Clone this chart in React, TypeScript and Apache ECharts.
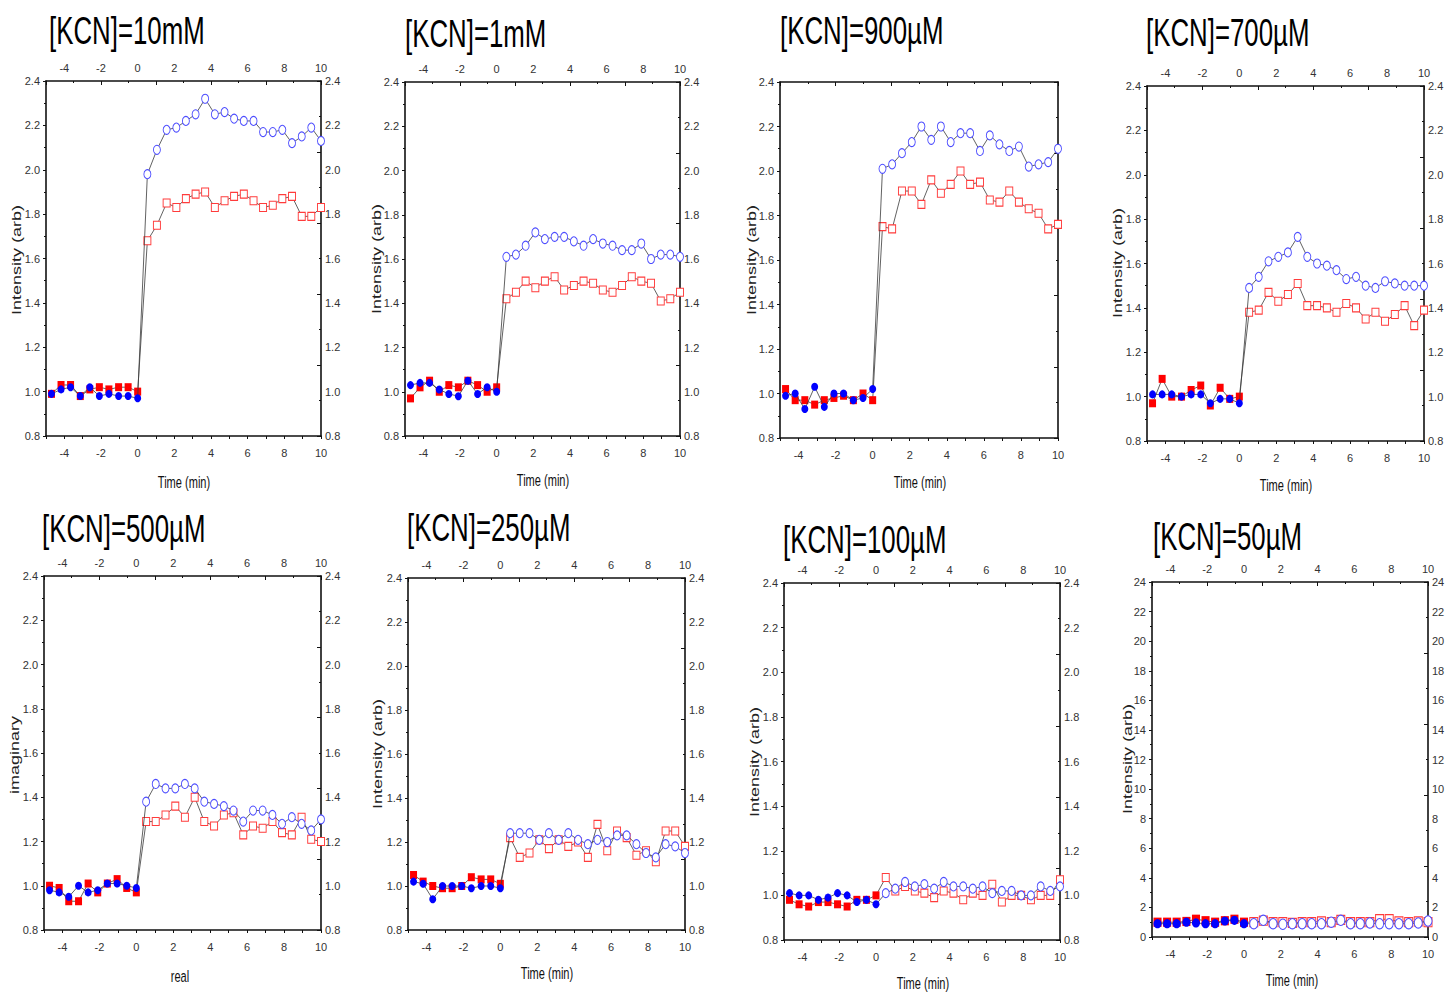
import { useEffect, useRef } from 'react';
import * as echarts from 'echarts';

// Sampling times (min): ten baseline points before KCN addition, nineteen after.
const TIMES = [
  -4.7, -4.18, -3.66, -3.13, -2.61, -2.09, -1.57, -1.04, -0.52, 0.0,
  0.53, 1.05, 1.58, 2.11, 2.63, 3.16, 3.68, 4.21, 4.74, 5.26,
  5.79, 6.32, 6.84, 7.37, 7.89, 8.42, 8.95, 9.47, 10.0,
];
const FIRST_AFTER_ADDITION = 10;

const TITLES = [
  '[KCN]=10mM', '[KCN]=1mM', '[KCN]=900µM', '[KCN]=700µM',
  '[KCN]=500µM', '[KCN]=250µM', '[KCN]=100µM', '[KCN]=50µM',
];
const X_NAMES = ['Time (min)', 'Time (min)', 'Time (min)', 'Time (min)', 'real', 'Time (min)', 'Time (min)', 'Time (min)'];
const Y_NAMES = ['Intensity (arb)', 'Intensity (arb)', 'Intensity (arb)', 'Intensity (arb)', 'imaginary', 'Intensity (arb)', 'Intensity (arb)', 'Intensity (arb)'];
const X_TICKS = [-4, -2, 0, 2, 4, 6, 8, 10];
const Y_MIN = [0.8, 0.8, 0.8, 0.8, 0.8, 0.8, 0.8, 0];
const Y_MAX = [2.4, 2.4, 2.4, 2.4, 2.4, 2.4, 2.4, 24];
const Y_STEP = [0.2, 0.2, 0.2, 0.2, 0.2, 0.2, 0.2, 2];

// Red (square) and blue (circle) intensity traces per KCN concentration.
const RED_10MM = [0.99, 1.03, 1.03, 0.98, 1.01, 1.02, 1.01, 1.02, 1.02, 1.00,
  1.68, 1.75, 1.85, 1.83, 1.87, 1.89, 1.90, 1.83, 1.86, 1.88, 1.89, 1.86, 1.83, 1.84, 1.87, 1.88, 1.79, 1.79, 1.83];
const BLUE_10MM = [0.99, 1.01, 1.02, 0.98, 1.02, 0.98, 0.99, 0.98, 0.98, 0.97,
  1.98, 2.09, 2.18, 2.19, 2.22, 2.25, 2.32, 2.25, 2.26, 2.23, 2.22, 2.22, 2.17, 2.17, 2.18, 2.12, 2.15, 2.19, 2.13];

const RED_1MM = [0.97, 1.02, 1.05, 1.00, 1.03, 1.02, 1.05, 1.03, 1.00, 1.02,
  1.42, 1.45, 1.50, 1.47, 1.50, 1.52, 1.46, 1.48, 1.50, 1.49, 1.46, 1.45, 1.48, 1.52, 1.50, 1.49, 1.41, 1.42, 1.45];
const BLUE_1MM = [1.03, 1.04, 1.04, 1.01, 0.99, 0.98, 1.05, 0.99, 1.02, 1.00,
  1.61, 1.62, 1.66, 1.72, 1.69, 1.70, 1.70, 1.68, 1.66, 1.69, 1.67, 1.66, 1.64, 1.64, 1.67, 1.60, 1.62, 1.62, 1.61];

const RED_900UM = [1.02, 0.97, 0.97, 0.95, 0.97, 0.98, 0.99, 0.97, 1.00, 0.97,
  1.75, 1.74, 1.91, 1.91, 1.85, 1.96, 1.90, 1.94, 2.00, 1.94, 1.95, 1.87, 1.86, 1.91, 1.86, 1.83, 1.81, 1.74, 1.76];
const BLUE_900UM = [0.99, 1.00, 0.93, 1.03, 0.94, 1.00, 1.00, 0.97, 0.98, 1.02,
  2.01, 2.03, 2.08, 2.13, 2.20, 2.14, 2.20, 2.13, 2.17, 2.17, 2.09, 2.16, 2.12, 2.09, 2.11, 2.02, 2.03, 2.04, 2.10];

const RED_700UM = [0.97, 1.08, 1.00, 1.00, 1.03, 1.05, 0.96, 1.04, 0.99, 1.00,
  1.38, 1.39, 1.47, 1.43, 1.46, 1.51, 1.41, 1.41, 1.40, 1.38, 1.42, 1.40, 1.35, 1.38, 1.34, 1.37, 1.41, 1.32, 1.39];
const BLUE_700UM = [1.01, 1.01, 1.01, 1.00, 1.01, 1.01, 0.97, 0.99, 0.99, 0.97,
  1.49, 1.54, 1.61, 1.63, 1.65, 1.72, 1.63, 1.60, 1.59, 1.57, 1.53, 1.54, 1.50, 1.49, 1.52, 1.51, 1.50, 1.50, 1.50];

const RED_500UM = [1.00, 0.99, 0.93, 0.93, 1.01, 0.97, 1.01, 1.03, 0.99, 0.97,
  1.29, 1.29, 1.32, 1.36, 1.31, 1.40, 1.29, 1.27, 1.32, 1.33, 1.23, 1.27, 1.26, 1.29, 1.24, 1.23, 1.31, 1.21, 1.20];
const BLUE_500UM = [0.98, 0.97, 0.95, 1.00, 0.97, 0.98, 1.01, 1.01, 1.00, 0.99,
  1.38, 1.46, 1.44, 1.44, 1.46, 1.44, 1.38, 1.37, 1.36, 1.34, 1.29, 1.34, 1.34, 1.32, 1.28, 1.31, 1.28, 1.25, 1.30];

const RED_250UM = [1.05, 1.02, 1.00, 0.99, 0.99, 1.00, 1.04, 1.03, 1.03, 1.01,
  1.22, 1.13, 1.15, 1.21, 1.17, 1.21, 1.18, 1.20, 1.13, 1.28, 1.16, 1.25, 1.22, 1.14, 1.16, 1.11, 1.25, 1.25, 1.18];
const BLUE_250UM = [1.02, 1.01, 0.94, 1.00, 1.00, 1.00, 0.99, 1.00, 1.00, 0.99,
  1.24, 1.24, 1.24, 1.21, 1.24, 1.21, 1.24, 1.21, 1.19, 1.21, 1.20, 1.23, 1.23, 1.19, 1.15, 1.13, 1.19, 1.18, 1.15];

const RED_100UM = [0.98, 0.96, 0.95, 0.97, 0.97, 0.96, 0.95, 0.98, 0.98, 1.00,
  1.08, 1.02, 1.04, 1.02, 1.01, 0.99, 1.02, 1.01, 0.98, 1.01, 1.00, 1.05, 0.97, 1.00, 1.00, 0.98, 1.00, 1.00, 1.07];
const BLUE_100UM = [1.01, 1.00, 1.00, 0.98, 0.99, 1.01, 1.00, 0.97, 0.98, 0.96,
  1.01, 1.03, 1.06, 1.04, 1.05, 1.03, 1.06, 1.04, 1.04, 1.03, 1.04, 1.01, 1.02, 1.02, 1.00, 1.00, 1.04, 1.02, 1.04];

const RED_50UM = [1.0, 1.0, 1.0, 1.05, 1.2, 1.1, 1.0, 1.1, 1.2, 1.0,
  1.0, 1.1, 1.0, 1.0, 0.95, 1.0, 1.0, 1.05, 1.0, 1.15, 1.0, 1.0, 1.0, 1.2, 1.2, 1.05, 1.0, 1.05, 1.0];
const BLUE_50UM = [0.9, 0.9, 0.9, 1.0, 0.95, 0.9, 0.9, 1.08, 1.13, 0.9,
  0.9, 1.13, 0.9, 0.86, 0.9, 0.9, 0.9, 0.9, 1.0, 1.13, 0.9, 0.9, 0.95, 0.9, 0.9, 0.9, 0.9, 0.95, 1.08];

const RED_SERIES = [RED_10MM, RED_1MM, RED_900UM, RED_700UM, RED_500UM, RED_250UM, RED_100UM, RED_50UM];
const BLUE_SERIES = [BLUE_10MM, BLUE_1MM, BLUE_900UM, BLUE_700UM, BLUE_500UM, BLUE_250UM, BLUE_100UM, BLUE_50UM];

// Page layout of each panel: plot box, title, axis-name anchors, marker scale.
const LAYOUT = [
  { left: 46, top: 81, width: 275, height: 355, title: [49, 31], xName: [184, 482], yName: [17, 260], outer: true, mk: 1 },
  { left: 405, top: 82, width: 275, height: 354, title: [405, 34], xName: [543, 480], yName: [377, 259], outer: true, mk: 1 },
  { left: 780, top: 82, width: 278, height: 356, title: [780, 31], xName: [920, 482], yName: [752, 260], outer: false, mk: 1 },
  { left: 1147, top: 86, width: 277, height: 355, title: [1146, 33], xName: [1286, 485], yName: [1118, 263], outer: true, mk: 1 },
  { left: 44, top: 576, width: 277, height: 354, title: [42, 529], xName: [180, 976], yName: [15, 755], outer: true, mk: 1 },
  { left: 408, top: 578, width: 277, height: 352, title: [407, 528], xName: [547, 973], yName: [378, 754], outer: true, mk: 1 },
  { left: 784, top: 583, width: 276, height: 357, title: [783, 540], xName: [923, 983], yName: [755, 762], outer: true, mk: 1 },
  { left: 1152, top: 582, width: 276, height: 355, title: [1153, 537], xName: [1292, 980], yName: [1128, 759], outer: true, mk: 1.15 },
];

const FONT = '"Liberation Sans", Arial, sans-serif';
const LABEL_STYLE = { fontFamily: FONT, fontSize: 11, color: '#333' };
const AXIS_LINE = { show: true, onZero: false, lineStyle: { color: '#111', width: 1.6 } };

function xLabel(v: number) {
  return X_TICKS.includes(v) ? String(v) : '';
}

function buildPoints(values: number[], isRed: boolean, k: number) {
  return values.map((v, i) => {
    const before = i < FIRST_AFTER_ADDITION;
    if (isRed) {
      return {
        value: [TIMES[i], v],
        symbol: 'rect',
        symbolSize: [7 * k, 8 * k],
        itemStyle: before
          ? { color: '#ff0000', borderWidth: 0 }
          : { color: '#ffffff', borderColor: '#ff3b3b', borderWidth: 1 },
      };
    }
    return {
      value: [TIMES[i], v],
      symbol: 'circle',
      symbolSize: before ? [7 * k, 8 * k] : [7 * k, 9 * k],
      itemStyle: before
        ? { color: '#0000ff', borderWidth: 0 }
        : { color: '#ffffff', borderColor: '#4d4dff', borderWidth: 1 },
    };
  });
}

function buildOption() {
  const grid: any[] = [];
  const xAxis: any[] = [];
  const yAxis: any[] = [];
  const series: any[] = [];
  const graphic: any[] = [];

  LAYOUT.forEach((p, g) => {
    grid.push({ left: p.left, top: p.top, width: p.width, height: p.height, containLabel: false });
    const yFmt = (v: number) => (Y_STEP[g] < 1 ? v.toFixed(1) : String(Math.round(v)));

    // bottom time axis
    xAxis.push({
      type: 'value', gridIndex: g, position: 'bottom', min: -5, max: 10, interval: 1,
      axisLine: AXIS_LINE,
      axisTick: { show: true, inside: false, length: 3, lineStyle: { color: '#111' } },
      axisLabel: { ...LABEL_STYLE, margin: 11, formatter: xLabel },
      splitLine: { show: false },
    });
    // top time axis (labels only)
    xAxis.push({
      type: 'value', gridIndex: g, position: 'top', min: -5, max: 10, interval: 1,
      axisLine: AXIS_LINE,
      axisTick: { show: false },
      axisLabel: { ...LABEL_STYLE, show: p.outer, margin: 8, formatter: xLabel },
      splitLine: { show: false },
    });
    // top inner tick marks
    xAxis.push({
      type: 'value', gridIndex: g, position: 'top', min: 0, max: 10, interval: 2,
      axisLine: { show: false, onZero: false },
      axisTick: { show: true, inside: true, length: 4, lineStyle: { color: '#111' } },
      minorTick: { show: true, splitNumber: 2, length: 2, lineStyle: { color: '#111' } },
      axisLabel: { show: false },
      splitLine: { show: false },
    });

    // left intensity axis
    yAxis.push({
      type: 'value', gridIndex: g, position: 'left', min: Y_MIN[g], max: Y_MAX[g], interval: Y_STEP[g],
      axisLine: AXIS_LINE,
      axisTick: { show: true, inside: false, length: 3, lineStyle: { color: '#111' } },
      minorTick: { show: true, splitNumber: 2, length: 2, lineStyle: { color: '#111' } },
      axisLabel: { ...LABEL_STYLE, margin: 6, formatter: yFmt },
      splitLine: { show: false },
    });
    // right intensity axis (labels only)
    yAxis.push({
      type: 'value', gridIndex: g, position: 'right', min: Y_MIN[g], max: Y_MAX[g], interval: Y_STEP[g],
      axisLine: AXIS_LINE,
      axisTick: { show: false },
      axisLabel: { ...LABEL_STYLE, show: p.outer, margin: 4, formatter: yFmt },
      splitLine: { show: false },
    });
    // right inner tick marks
    yAxis.push({
      type: 'value', gridIndex: g, position: 'right', min: 0, max: 10, interval: 2,
      axisLine: { show: false, onZero: false },
      axisTick: { show: true, inside: true, length: 4, lineStyle: { color: '#111' } },
      minorTick: { show: true, splitNumber: 2, length: 2, lineStyle: { color: '#111' } },
      axisLabel: { show: false },
      splitLine: { show: false },
    });

    const base = {
      type: 'line', xAxisIndex: g * 3, yAxisIndex: g * 3, showSymbol: true, showAllSymbol: true,
      silent: true, lineStyle: { color: '#3a3a3a', width: 0.8 }, clip: true,
    };
    series.push({ ...base, name: 'red', data: buildPoints(RED_SERIES[g], true, p.mk), z: 2 });
    series.push({ ...base, name: 'blue', data: buildPoints(BLUE_SERIES[g], false, p.mk), z: 3 });

    graphic.push({
      type: 'text', x: p.title[0], y: p.title[1], scaleX: 0.68,
      style: {
        text: TITLES[g], font: `38px ${FONT}`, fill: '#000',
        align: 'left', verticalAlign: 'middle', textAlign: 'left', textVerticalAlign: 'middle',
      },
    });
    graphic.push({
      type: 'text', x: p.xName[0], y: p.xName[1], scaleX: 0.65,
      style: {
        text: X_NAMES[g], font: `17px ${FONT}`, fill: '#111',
        align: 'center', verticalAlign: 'middle', textAlign: 'center', textVerticalAlign: 'middle',
      },
    });
    graphic.push({
      type: 'text', x: p.yName[0], y: p.yName[1], rotation: Math.PI / 2, scaleX: 1.5,
      style: {
        text: Y_NAMES[g], font: `12px ${FONT}`, fill: '#222',
        align: 'center', verticalAlign: 'middle', textAlign: 'center', textVerticalAlign: 'middle',
      },
    });
  });

  return {
    animation: false,
    backgroundColor: '#ffffff',
    grid, xAxis, yAxis, series, graphic,
  };
}

export default function App() {
  const ref = useRef<HTMLDivElement>(null);
  useEffect(() => {
    if (!ref.current) return;
    const chart = echarts.init(ref.current, undefined, { renderer: 'svg' });
    chart.setOption(buildOption() as any);
    return () => chart.dispose();
  }, []);
  return (
    <div
      ref={ref}
      style={{ position: 'fixed', left: 0, top: 0, width: 1448, height: 993, background: '#fff' }}
    />
  );
}
